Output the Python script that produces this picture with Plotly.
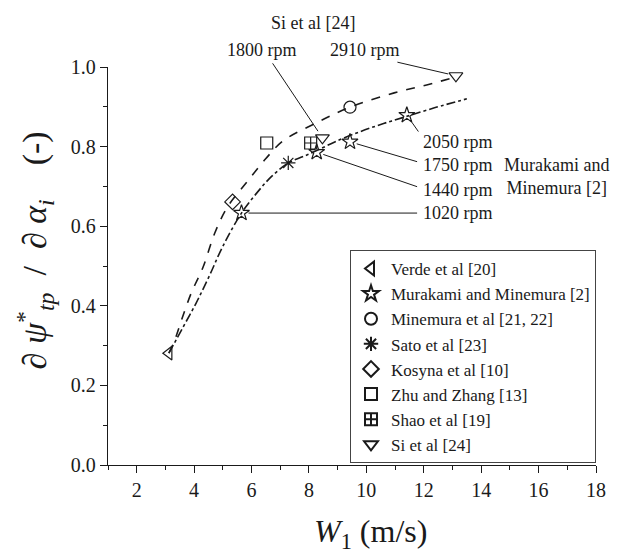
import plotly.graph_objects as go

# ---------------- data ----------------
verde_x = [3.12]
verde_y = [0.281]

murakami_x = [5.65, 8.27, 9.43, 11.41]
murakami_y = [0.633, 0.786, 0.812, 0.879]
murakami_rpm = ["1020 rpm", "1440 rpm", "1750 rpm", "2050 rpm"]

minemura_x = [9.43]
minemura_y = [0.899]

sato_x = [7.28]
sato_y = [0.759]

kosyna_x = [5.34]
kosyna_y = [0.661]

zhu_x = [6.53]
zhu_y = [0.809]

shao_x = [8.06]
shao_y = [0.809]

si_x = [8.47, 13.12]
si_y = [0.822, 0.978]
si_rpm = ["1800 rpm", "2910 rpm"]

# fitted curves
upper_x = [3.12, 3.29, 3.56, 3.9, 4.31, 4.72, 5.16, 5.85, 6.5, 7.11, 8.24, 9.43, 10.97, 12.1, 13.12]
upper_y = [0.281, 0.307, 0.364, 0.432, 0.497, 0.583, 0.648, 0.712, 0.77, 0.815, 0.859, 0.899, 0.935, 0.955, 0.975]

lower_x = [3.12, 3.62, 4.07, 4.51, 4.99, 5.65, 6.2, 6.7, 7.28, 7.8, 8.27, 9.0, 9.8, 10.6, 11.41, 12.4, 13.5]
lower_y = [0.281, 0.347, 0.407, 0.472, 0.548, 0.633, 0.685, 0.725, 0.759, 0.775, 0.79, 0.815, 0.838, 0.858, 0.876, 0.898, 0.92]

x_ticks = [2, 4, 6, 8, 10, 12, 14, 16, 18]
y_ticks = [0.0, 0.2, 0.4, 0.6, 0.8, 1.0]

# ---------------- styling ----------------
INK = "#1a1a1a"
FONT = "Liberation Serif, Times New Roman, Times, serif"
MS = 12

fig = go.Figure()

fig.add_trace(go.Scatter(x=upper_x, y=upper_y, mode="lines", line=dict(color=INK, width=1.6, dash="dash", shape="spline"),
                         showlegend=False, hoverinfo="skip"))
fig.add_trace(go.Scatter(x=lower_x, y=lower_y, mode="lines", line=dict(color=INK, width=1.6, dash="dashdot", shape="spline"),
                         showlegend=False, hoverinfo="skip"))

series = [
    ("Verde et al [20]", verde_x, verde_y, "triangle-left-open"),
    ("Murakami and Minemura [2]", murakami_x, murakami_y, "star-open"),
    ("Minemura et al [21, 22]", minemura_x, minemura_y, "circle-open"),
    ("Sato et al [23]", sato_x, sato_y, "asterisk-open"),
    ("Kosyna et al [10]", kosyna_x, kosyna_y, "diamond-open"),
    ("Zhu and Zhang [13]", zhu_x, zhu_y, "square-open"),
    ("Shao et al [19]", shao_x, shao_y, "square-cross-open"),
    ("Si et al [24]", si_x, si_y, "triangle-down-open"),
]
for name, xs, ys, sym in series:
    fig.add_trace(go.Scatter(x=xs, y=ys, mode="markers", name=name,
                             marker=dict(symbol=sym, size=MS, color=INK, line=dict(color=INK, width=1.2))))

annotations = []
# leader lines: Murakami rpm labels (right side)
mur_tails = [(11.82, None), (11.82, 0.698), (11.82, 0.761), (11.85, 0.834)]
mur_label_y = [0.633, 0.691, 0.754, 0.812]
for (tx, ty), lx_y, px, py, txt in zip(mur_tails, mur_label_y, murakami_x, murakami_y, murakami_rpm):
    tail_y = py if ty is None else ty
    annotations.append(dict(x=px, y=py, ax=tx, ay=tail_y, axref="x", ayref="y", xref="x", yref="y",
                            text="", showarrow=True, arrowhead=0, arrowwidth=1, arrowcolor=INK, standoff=7))
    annotations.append(dict(x=11.9, y=lx_y, xref="x", yref="y", text=txt, showarrow=False,
                            xanchor="left", yanchor="middle", font=dict(family=FONT, size=18, color=INK)))

# Si labels (top, above the plot area -> paper y)
si_tails = [(6.70, 1.013), (11.03, 1.013)]
si_label_pos = [(6.36, 1.043), (9.94, 1.043)]
for (tx, ty), (lx, ly), px, py, txt in zip(si_tails, si_label_pos, si_x, si_y, si_rpm):
    annotations.append(dict(x=px, y=py, ax=tx, ay=ty, axref="x", ayref="y", xref="x", yref="y",
                            text="", showarrow=True, arrowhead=0, arrowwidth=1, arrowcolor=INK, standoff=8))
    annotations.append(dict(x=lx, y=ly, xref="x", yref="paper", text=txt, showarrow=False,
                            xanchor="center", yanchor="middle", font=dict(family=FONT, size=18, color=INK)))

annotations.append(dict(x=8.13, y=1.111, xref="x", yref="paper", text="Si et al [24]", showarrow=False,
                        xanchor="center", yanchor="middle", font=dict(family=FONT, size=18, color=INK)))
annotations.append(dict(x=0.92, y=0.724, xref="paper", yref="paper", text="Murakami and<br>Minemura [2]",
                        showarrow=False, xanchor="center", yanchor="middle", align="center",
                        font=dict(family=FONT, size=18, color=INK)))

# axis titles as annotations for exact placement
annotations.append(dict(x=0.538, y=-0.171, xref="paper", yref="paper",
                        text="<i>W</i><sub>1</sub> (m/s)", showarrow=False,
                        xanchor="center", yanchor="middle", font=dict(family=FONT, size=32, color=INK)))
annotations.append(dict(x=-0.151, y=0.540, xref="paper", yref="paper", textangle=-90,
                        text="∂ <i>ψ</i><sup>*</sup><sub><i>tp</i></sub>  /  ∂ <i>α</i><sub><i>i</i></sub>    (-)",
                        showarrow=False, xanchor="center", yanchor="middle",
                        font=dict(family=FONT, size=34, color=INK)))

fig.update_layout(
    width=610, height=546,
    margin=dict(l=100, r=12, t=59, b=89),
    paper_bgcolor="white", plot_bgcolor="white",
    font=dict(family=FONT, color=INK, size=18),
    annotations=annotations,
    legend=dict(x=1.0, y=0.005, xanchor="right", yanchor="bottom",
                bordercolor="#444", borderwidth=1, bgcolor="white",
                font=dict(family=FONT, size=17, color=INK),
                itemsizing="constant", tracegroupgap=0),
    showlegend=True,
)

fig.update_xaxes(
    range=[1, 18], tickvals=x_ticks, ticktext=[str(v) for v in x_ticks],
    showline=True, linecolor=INK, linewidth=1.3, mirror=False,
    ticks="outside", ticklen=7, tickwidth=1.2, tickcolor=INK,
    minor=dict(dtick=1, tick0=1, ticks="outside", ticklen=4, tickwidth=1.1, tickcolor=INK, showgrid=False),
    showgrid=False, zeroline=False,
    tickfont=dict(family=FONT, size=20, color=INK),
)
fig.update_yaxes(
    range=[0, 1.0], tickvals=y_ticks, ticktext=[f"{v:.1f}" for v in y_ticks],
    showline=True, linecolor=INK, linewidth=1.3, mirror=False,
    ticks="outside", ticklen=7, tickwidth=1.2, tickcolor=INK,
    minor=dict(dtick=0.1, tick0=0, ticks="outside", ticklen=4, tickwidth=1.1, tickcolor=INK, showgrid=False),
    showgrid=False, zeroline=False,
    tickfont=dict(family=FONT, size=20, color=INK),
)

fig.write_html("out.html")
